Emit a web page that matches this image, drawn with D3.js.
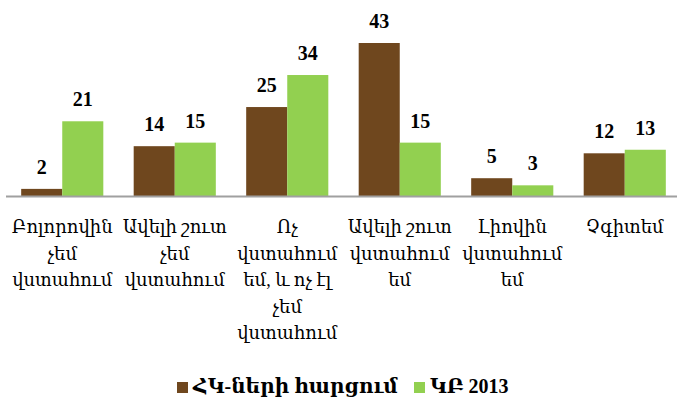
<!DOCTYPE html>
<html>
<head>
<meta charset="utf-8">
<script src="https://cdn.jsdelivr.net/npm/d3@7"></script>
<style>
  body { margin: 0; background: #fff; }
  svg text { font-family: "Liberation Serif", "DejaVu Serif", serif; }
</style>
</head>
<body>
<div id="chart"></div>
<script>
// categories, one entry per group, split into the lines shown under the axis
const categories = [
  ["Բոլորովին", "չեմ", "վստահում"],
  ["Ավելի շուտ", "չեմ", "վստահում"],
  ["Ոչ", "վստահում", "եմ, և ոչ էլ", "չեմ", "վստահում"],
  ["Ավելի շուտ", "վստահում", "եմ"],
  ["Լիովին", "վստահում", "եմ"],
  ["Չգիտեմ"]
];
const seriesNames = ["ՀԿ-ների հարցում", "ԿԲ 2013"];
const ngoValues = [2, 14, 25, 43, 5, 12];
const cbValues = [21, 15, 34, 15, 3, 13];
const colors = ["#6f471e", "#92d050"];

const width = 677, height = 410;
const baseY = 196;

const svg = d3.select("#chart").append("svg")
    .attr("width", width)
    .attr("height", height);

const data = categories.map((c, i) => ({ idx: i, lines: c, values: [ngoValues[i], cbValues[i]] }));

const x0 = d3.scaleBand()
    .domain(d3.range(categories.length))
    .range([6, 681])
    .paddingInner(0.27)
    .paddingOuter(0.135);

const x1 = d3.scaleBand()
    .domain([0, 1])
    .range([0, x0.bandwidth()]);

const y = d3.scaleLinear()
    .domain([0, 43])
    .range([baseY, 43]);

const groups = svg.selectAll("g.grp")
    .data(data)
    .enter().append("g")
    .attr("class", "grp")
    .attr("transform", d => "translate(" + x0(d.idx) + ",0)");

groups.selectAll("rect")
    .data(d => d.values.map((v, s) => ({ v: v, s: s })))
    .enter().append("rect")
    .attr("x", d => x1(d.s))
    .attr("y", d => y(d.v))
    .attr("width", x1.bandwidth())
    .attr("height", d => baseY - y(d.v))
    .style("fill", d => colors[d.s]);

groups.selectAll("text.val")
    .data(d => d.values.map((v, s) => ({ v: v, s: s })))
    .enter().append("text")
    .attr("class", "val")
    .attr("x", d => x1(d.s) + x1.bandwidth() / 2)
    .attr("y", d => y(d.v) - 15)
    .attr("text-anchor", "middle")
    .style("font-weight", "bold")
    .style("font-size", "20px")
    .text(d => d.v);

// x axis line
svg.append("line")
    .attr("x1", 6).attr("x2", 677)
    .attr("y1", baseY + 0.5).attr("y2", baseY + 0.5)
    .style("stroke", "#a0a0a0")
    .style("stroke-width", 2);

// category labels
groups.append("text")
    .attr("class", "cat")
    .attr("text-anchor", "middle")
    .style("font-size", "18px")
    .selectAll("tspan")
    .data(d => d.lines)
    .enter().append("tspan")
    .attr("x", x0.bandwidth() / 2)
    .attr("y", (d, i) => 233 + i * 26.5)
    .text(d => d);

// legend
const legendX = [177, 414];
const legend = svg.selectAll("g.leg")
    .data(seriesNames)
    .enter().append("g")
    .attr("class", "leg")
    .attr("transform", (d, i) => "translate(" + legendX[i] + ",382)");

legend.append("rect")
    .attr("width", 11).attr("height", 11)
    .style("fill", (d, i) => colors[i]);

legend.append("text")
    .attr("x", 16)
    .attr("y", 11)
    .style("font-weight", "bold")
    .style("font-size", "20px")
    .text(d => d);
</script>
</body>
</html>
